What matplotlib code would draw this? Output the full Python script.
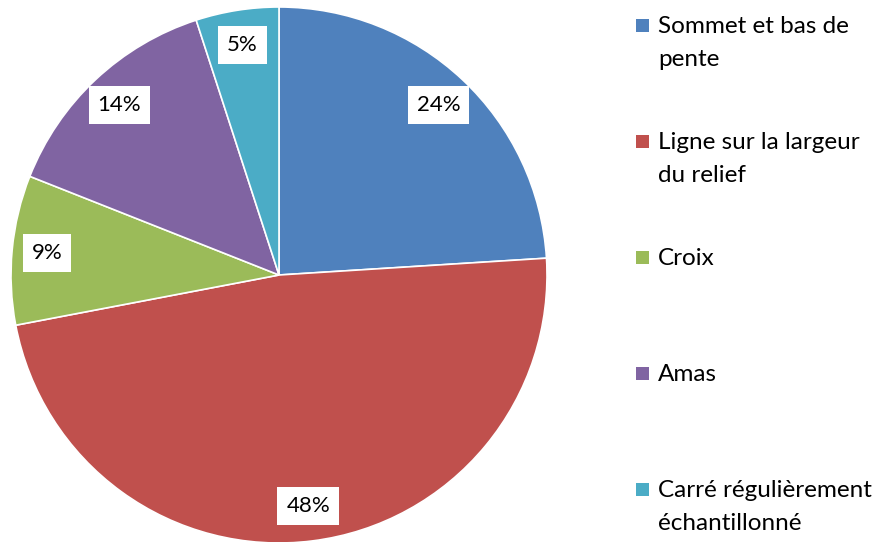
import matplotlib
matplotlib.use('Agg')
import matplotlib.pyplot as plt
from matplotlib.patches import Rectangle

# data
labels = ['Sommet et bas de\npente', 'Ligne sur la largeur\ndu relief', 'Croix',
          'Amas', 'Carré régulièrement\néchantillonné']
values = [24, 48, 9, 14, 5]
colors = ['#4F81BD', '#C0504D', '#9BBB59', '#8064A2', '#4BACC6']

plt.rcParams['font.family'] = ['Lato', 'DejaVu Sans']

W, H = 877, 542
fig = plt.figure(figsize=(W / 100, H / 100), dpi=100)

# pie axes: centre (279, 275) px, radius 268 px
cx, cy, r = 279, 275, 268
ax = fig.add_axes([(cx - r) / W, (H - cy - r) / H, 2 * r / W, 2 * r / H])
wedges, texts, autotexts = ax.pie(
    values, colors=colors, startangle=90, counterclock=False,
    autopct='%d%%', pctdistance=0.87, radius=1,
    wedgeprops=dict(edgecolor='white', linewidth=1.2),
    textprops=dict(fontsize=16, color='black'))
for t in autotexts:
    t.set_bbox(dict(boxstyle='square,pad=0.4', facecolor='white', edgecolor='none'))
ax.set_xlim(-1, 1)
ax.set_ylim(-1, 1)
ax.set_aspect('equal')
ax.axis('off')

# legend, first lines evenly spaced
top = 16      # top of first line, px from top
step = 116
for i, (lab, col) in enumerate(zip(labels, colors)):
    y = top + i * step
    fig.text(658 / W, 1 - y / H, lab, fontsize=17.5, va='top', ha='left',
             linespacing=1.7, color='#000000')
    fig.add_artist(Rectangle((636 / W, 1 - (y + 16) / H), 13 / W, 13 / H,
                             transform=fig.transFigure, facecolor=col,
                             edgecolor='none'))

fig.savefig('out.png', dpi=100)
